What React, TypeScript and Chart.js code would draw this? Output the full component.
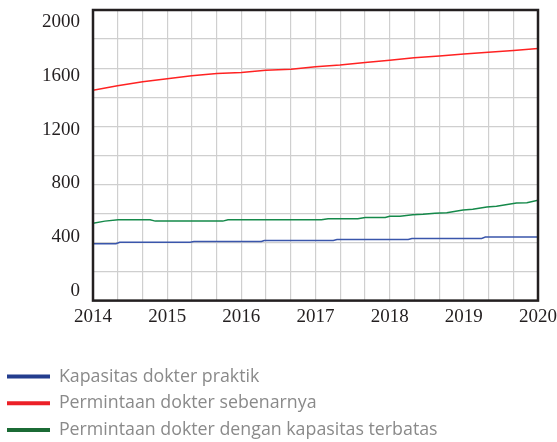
import React, { useEffect, useRef } from 'react';
import { Chart, registerables } from 'chart.js';

Chart.register(...registerables);

// Legend / series names
const seriesNames = [
  'Kapasitas dokter praktik',
  'Permintaan dokter sebenarnya',
  'Permintaan dokter dengan kapasitas terbatas',
];

// Axis tick labels
const xYearLabels = [2014, 2015, 2016, 2017, 2018, 2019, 2020];
const yTickLabels = [0, 400, 800, 1200, 1600, 2000];
const yGridValues = [0, 200, 400, 600, 800, 1000, 1200, 1400, 1600, 1800, 2000];
const xGridValues = [
  2014, 2014 + 1 / 3, 2014 + 2 / 3, 2015, 2015 + 1 / 3, 2015 + 2 / 3, 2016, 2016 + 1 / 3, 2016 + 2 / 3,
  2017, 2017 + 1 / 3, 2017 + 2 / 3, 2018, 2018 + 1 / 3, 2018 + 2 / 3, 2019, 2019 + 1 / 3, 2019 + 2 / 3, 2020,
];

// Series 1: Kapasitas dokter praktik (blue)
const capacityYears = [2014, 2014.31, 2014.36, 2015.31, 2015.36, 2016.27, 2016.31, 2017.24, 2017.29, 2018.25, 2018.3, 2019.24, 2019.29, 2020];
const capacityValues = [391, 391, 402, 402, 407, 407, 414, 414, 421, 421, 428, 428, 437, 437];

// Series 2: Permintaan dokter sebenarnya (red)
const demandYears = [2014, 2014.33, 2014.67, 2015, 2015.33, 2015.67, 2016, 2016.33, 2016.67, 2017, 2017.33, 2017.67, 2018, 2018.33, 2018.67, 2019, 2019.33, 2019.67, 2020];
const demandValues = [1448, 1478, 1506, 1527, 1548, 1563, 1570, 1586, 1593, 1609, 1621, 1639, 1655, 1671, 1683, 1697, 1710, 1722, 1735];

// Series 3: Permintaan dokter dengan kapasitas terbatas (green)
const limitedYears = [2014, 2014.16, 2014.34, 2014.77, 2014.84, 2015.75, 2015.82, 2017.08, 2017.17, 2017.57, 2017.67, 2017.94, 2018.0, 2018.14, 2018.31, 2018.45, 2018.61, 2018.77, 2018.99, 2019.12, 2019.31, 2019.44, 2019.71, 2019.85, 2020];
const limitedValues = [533, 547, 556, 556, 547, 547, 556, 556, 563, 563, 572, 572, 581, 581, 591, 595, 602, 605, 623, 628, 644, 650, 671, 674, 690];

const lineColors = ['#3a56ab', '#ff2222', '#15894a'];
const legendColors = ['#233d8e', '#ec2027', '#1b6b35'];

const frame = {
  id: 'frame',
  afterDraw(chart: any) {
    const { ctx, chartArea } = chart;
    const { left, top, right, bottom } = chartArea;
    ctx.save();
    ctx.strokeStyle = '#231f20';
    ctx.lineWidth = 2.5;
    ctx.strokeRect(left, top, right - left, bottom - top);
    ctx.restore();
  },
};

const serif = "'Liberation Serif', 'Times New Roman', serif";

const zeroPad = (scale: any) => {
  scale.paddingTop = 0;
  scale.paddingBottom = 0;
  scale.paddingLeft = 0;
  scale.paddingRight = 0;
};

export default function App() {
  const ref = useRef<HTMLCanvasElement | null>(null);

  useEffect(() => {
    if (!ref.current) return;
    const toPts = (xs: number[], ys: number[]) => xs.map((x, i) => ({ x, y: ys[i] }));
    const chart = new Chart(ref.current, {
      type: 'line',
      data: {
        datasets: [
          { label: seriesNames[0], data: toPts(capacityYears, capacityValues), borderColor: lineColors[0], backgroundColor: legendColors[0] },
          { label: seriesNames[1], data: toPts(demandYears, demandValues), borderColor: lineColors[1], backgroundColor: legendColors[1] },
          { label: seriesNames[2], data: toPts(limitedYears, limitedValues), borderColor: lineColors[2], backgroundColor: legendColors[2] },
        ].map((d) => ({ ...d, borderWidth: 1.5, pointRadius: 0, tension: 0, fill: false, xAxisID: 'x', yAxisID: 'y' })),
      },
      options: {
        responsive: false,
        animation: false,
        layout: { padding: { top: 10, left: 0, right: 0, bottom: 0 } },
        scales: {
          x: {
            type: 'linear',
            min: 2014,
            max: 2020,
            afterBuildTicks: (scale: any) => {
              scale.ticks = xGridValues.map((v) => ({ value: v }));
            },
            afterFit: (scale: any) => {
              scale.height = 58;
              scale.paddingLeft = 0;
              scale.paddingRight = 19;
              scale.paddingTop = 0;
              scale.paddingBottom = 0;
            },
            grid: { color: '#cfcfcf', lineWidth: 1.2, drawTicks: false },
            border: { display: false },
            ticks: {
              autoSkip: false,
              maxRotation: 0,
              padding: 5,
              color: '#231f20',
              font: { family: serif, size: 19 },
              callback: (v: any) => {
                const n = Number(v);
                const r = Math.round(n);
                return Math.abs(n - r) < 1e-6 && xYearLabels.includes(r) ? String(r) : '';
              },
            },
          },
          y: {
            type: 'linear',
            position: 'left',
            weight: 0,
            min: 0,
            max: 2000,
            afterBuildTicks: (scale: any) => {
              scale.ticks = yGridValues.map((v) => ({ value: v }));
            },
            afterFit: (scale: any) => {
              scale.width = 0;
              zeroPad(scale);
            },
            grid: { color: '#cfcfcf', lineWidth: 1.2, drawTicks: false },
            border: { display: false },
            ticks: { display: false },
          },
          yLab: {
            type: 'linear',
            position: 'left',
            weight: 1,
            min: -74.7,
            max: 2092.7,
            afterBuildTicks: (scale: any) => {
              scale.ticks = yTickLabels.map((v) => ({ value: v }));
            },
            afterFit: (scale: any) => {
              scale.width = 95;
              zeroPad(scale);
            },
            grid: { display: false, drawTicks: false },
            border: { display: false },
            ticks: {
              padding: 13,
              color: '#231f20',
              font: { family: serif, size: 19 },
              callback: (v: any) => String(v),
            },
          },
        },
        plugins: {
          tooltip: { enabled: false },
          legend: {
            position: 'bottom',
            align: 'start',
            labels: {
              boxWidth: 43,
              boxHeight: 4,
              padding: 9,
              color: '#8a8a8a',
              font: { family: "'Open Sans', 'Noto Sans', sans-serif", size: 17.8 },
              generateLabels: (c: any) =>
                c.data.datasets.map((d: any, i: number) => ({
                  text: d.label,
                  fillStyle: legendColors[i],
                  strokeStyle: legendColors[i],
                  lineWidth: 0,
                  hidden: false,
                  datasetIndex: i,
                  fontColor: '#8a8a8a',
                })),
            },
          },
        },
      },
      plugins: [frame],
    } as any);
    return () => chart.destroy();
  }, []);

  return (
    <div style={{ position: 'fixed', left: -2, top: 0, width: 559, height: 442, overflow: 'hidden', background: '#fff' }}>
      <canvas ref={ref} width={559} height={449} style={{ width: 559, height: 449, display: 'block' }} />
    </div>
  );
}
